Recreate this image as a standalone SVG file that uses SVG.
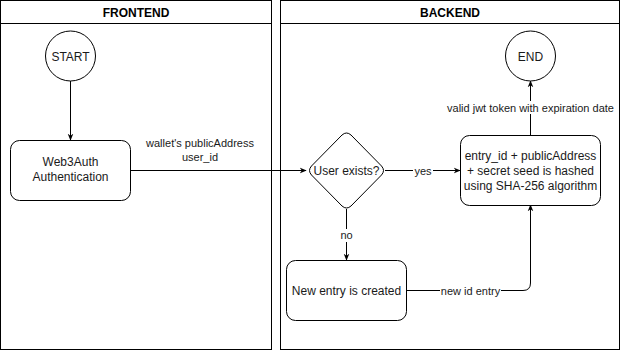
<svg xmlns="http://www.w3.org/2000/svg" width="621" height="351" viewBox="0 0 621 351">
  <style>
    .pool { fill: #ffffff; stroke: #000000; stroke-width: 1; }
    .shape { fill: #ffffff; stroke: #000000; stroke-width: 1; }
    .head { font-family: "Liberation Sans", Arial, sans-serif; font-size: 12px; font-weight: bold; fill: #000000; text-anchor: middle; }
    .txt { font-family: "Liberation Sans", Arial, sans-serif; font-size: 12px; fill: #1a1a1a; text-anchor: middle; }
    .lbl { font-family: "Liberation Sans", Arial, sans-serif; font-size: 11px; fill: #1a1a1a; text-anchor: middle; }
    .edge { fill: none; stroke: #000000; stroke-width: 1; }
    .bg { fill: #ffffff; }
  </style>
  <defs>
    <marker id="arrow" viewBox="0 0 10 10" refX="9" refY="5" markerWidth="7" markerHeight="7" orient="auto" markerUnits="userSpaceOnUse">
      <path d="M0,1 L10,5 L0,9 L3,5 Z" fill="#000000"/>
    </marker>
  </defs>

  <rect width="621" height="351" fill="#ffffff"/>

  <!-- swimlanes -->
  <g id="lane-frontend">
    <rect class="pool" x="0.5" y="0.5" width="271" height="349"/>
    <line class="edge" x1="0.5" y1="23.5" x2="271.5" y2="23.5"/>
    <text class="head" x="136" y="17">FRONTEND</text>
  </g>
  <g id="lane-backend">
    <rect class="pool" x="280.5" y="0.5" width="339" height="349"/>
    <line class="edge" x1="280.5" y1="23.5" x2="619.5" y2="23.5"/>
    <text class="head" x="450" y="17">BACKEND</text>
  </g>

  <!-- connectors -->
  <g id="connectors">
    <path class="edge" d="M70.5,81 L70.5,140" marker-end="url(#arrow)"/>
    <path class="edge" d="M130,170.5 L306,170.5" marker-end="url(#arrow)"/>
    <path class="edge" d="M385,170.5 L460,170.5" marker-end="url(#arrow)"/>
    <path class="edge" d="M346.5,209 L346.5,260" marker-end="url(#arrow)"/>
    <path class="edge" d="M406,290.5 L523,290.5 Q530.5,290.5 530.5,283 L530.5,205" marker-end="url(#arrow)"/>
    <path class="edge" d="M530.5,135 L530.5,81" marker-end="url(#arrow)"/>

    <text class="lbl" x="200" y="147">wallet's publicAddress</text>
    <text class="lbl" x="200" y="161">user_id</text>

    <rect class="bg" x="413" y="164" width="20" height="13"/>
    <text class="lbl" x="423" y="174.5">yes</text>

    <rect class="bg" x="338" y="229" width="17" height="13"/>
    <text class="lbl" x="346.5" y="239">no</text>

    <rect class="bg" x="440" y="284" width="61" height="13"/>
    <text class="lbl" x="470.5" y="294.5">new id entry</text>

    <rect class="bg" x="445" y="101" width="171" height="13"/>
    <text class="lbl" x="530.5" y="111.5">valid jwt token with expiration date</text>
  </g>

  <!-- nodes -->
  <g id="start">
    <circle class="shape" cx="70.5" cy="56" r="25"/>
    <text class="txt" x="70.5" y="60.5">START</text>
  </g>

  <g id="web3auth">
    <rect class="shape" x="10.5" y="140.5" width="120" height="60" rx="9" ry="9"/>
    <text class="txt" x="70.5" y="166">Web3Auth</text>
    <text class="txt" x="70.5" y="181">Authentication</text>
  </g>

  <g id="user-exists">
    <path class="shape" d="M342,135 Q346.5,131 351,135 L381.5,166 Q385.5,170.5 381.5,175 L351,206 Q346.5,210 342,206 L311.5,175 Q307.5,170.5 311.5,166 Z" stroke-linejoin="round"/>
    <text class="txt" x="346.5" y="175">User exists?</text>
  </g>

  <g id="hash">
    <rect class="shape" x="460.5" y="135.5" width="140" height="70" rx="9" ry="9"/>
    <text class="txt" x="530.5" y="160">entry_id + publicAddress</text>
    <text class="txt" x="530.5" y="175">+ secret seed is hashed</text>
    <text class="txt" x="530.5" y="190">using SHA-256 algorithm</text>
  </g>

  <g id="new-entry">
    <rect class="shape" x="286.5" y="260.5" width="120" height="60" rx="9" ry="9"/>
    <text class="txt" x="346.5" y="295">New entry is created</text>
  </g>

  <g id="end">
    <circle class="shape" cx="530.5" cy="56" r="25"/>
    <text class="txt" x="530.5" y="60.5">END</text>
  </g>
</svg>
